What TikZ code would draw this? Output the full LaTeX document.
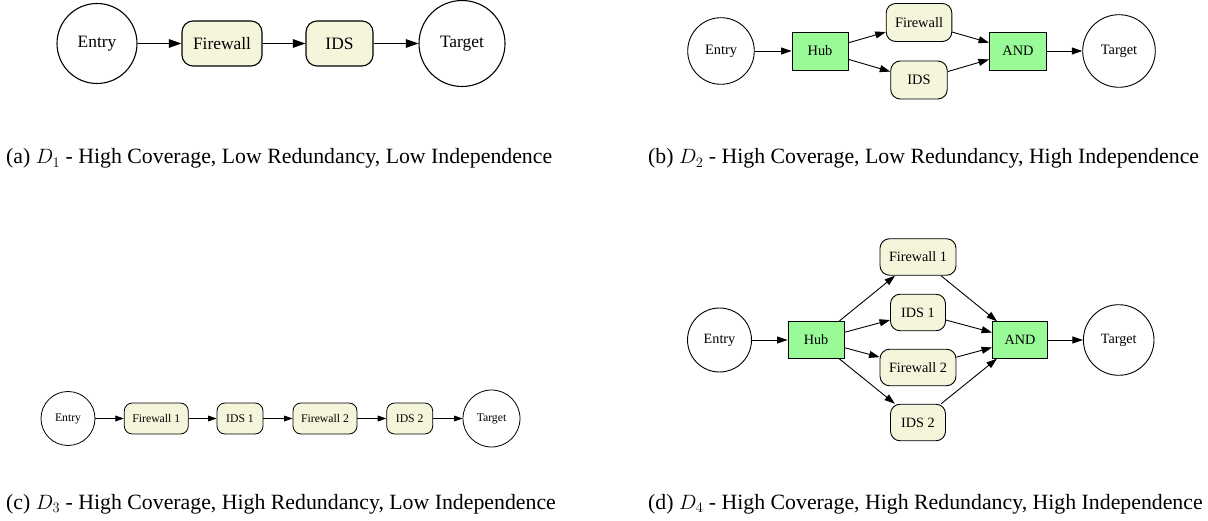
\documentclass[tikz,border=0pt]{standalone}
\usepackage{fontspec}
\setmainfont{Liberation Serif}
\usetikzlibrary{arrows.meta}

\definecolor{guardfill}{HTML}{F5F5DC}
\definecolor{gatefill}{HTML}{98FB98}

% \gr (corner radius) and \bh (box height) are set inside each panel scope
\tikzset{
  endpt/.style={circle, draw, fill=white, inner sep=0pt, minimum size=#1},
  guard/.style={rectangle, draw, fill=guardfill, inner sep=0pt,
                minimum width=#1, minimum height=\bh, rounded corners=\gr},
  gate/.style={rectangle, draw, fill=gatefill, inner sep=0pt,
               minimum width=#1, minimum height=\bh},
  link/.style={->},
  caption/.style={anchor=base west, inner sep=0pt,
                  font=\fontsize{21.8}{26}\selectfont},
}

\begin{document}
\begin{tikzpicture}[x=1pt, y=-1pt]
\useasboundingbox (0,0) rectangle (1208,521);

% ---------- (a) serial chain ----------
\begin{scope}[line width=1.1pt, font=\fontsize{17.4}{21}\selectfont,
              >={Triangle[length=12.5pt,width=8.5pt]}]
  \def\gr{11pt}\def\bh{45pt}
  \node[endpt=80pt] (a-entry)  at (97,43.5)    {Entry};
  \node[guard=80pt] (a-fw)     at (222,43.5)   {Firewall};
  \node[guard=67pt] (a-ids)    at (339.5,43.5) {IDS};
  \node[endpt=86pt] (a-target) at (462,43.5)   {Target};
  \draw[link] (a-entry) -- (a-fw);
  \draw[link] (a-fw) -- (a-ids);
  \draw[link] (a-ids) -- (a-target);
\end{scope}
\node[caption] (cap-a) at (6,164)
  {(a) $D_1$ - High Coverage, Low Redundancy, Low Independence};

% ---------- (b) parallel pair ----------
\begin{scope}[line width=0.9pt, font=\fontsize{14.4}{17}\selectfont,
              >={Triangle[length=10.5pt,width=7pt]}]
  \def\gr{9.5pt}\def\bh{38pt}
  \node[endpt=66.6pt] (b-entry)  at (721,51)    {Entry};
  \node[gate=56pt]    (b-hub)    at (820,51)    {Hub};
  \node[guard=65.6pt] (b-fw)     at (919,22.5)  {Firewall};
  \node[guard=56.5pt] (b-ids)    at (919,80)    {IDS};
  \node[gate=57pt]    (b-and)    at (1018,51)   {AND};
  \node[endpt=72.6pt] (b-target) at (1119,51)   {Target};
  \draw[link] (b-entry) -- (b-hub);
  \draw[link] (b-hub) -- (b-fw);
  \draw[link] (b-hub) -- (b-ids);
  \draw[link] (b-fw) -- (b-and);
  \draw[link] (b-ids) -- (b-and);
  \draw[link] (b-and) -- (b-target);
\end{scope}
\node[caption] (cap-b) at (648,164)
  {(b) $D_2$ - High Coverage, Low Redundancy, High Independence};

% ---------- (c) long serial chain ----------
\begin{scope}[line width=0.8pt, font=\fontsize{11.7}{14}\selectfont,
              >={Triangle[length=8.6pt,width=5.8pt]}]
  \def\gr{8pt}\def\bh{31pt}
  \node[endpt=54pt] (c-entry)  at (68,418.5)    {Entry};
  \node[guard=64pt] (c-fw1)    at (156.3,418.5) {Firewall 1};
  \node[guard=46pt] (c-ids1)   at (240,418.5)   {IDS 1};
  \node[guard=64pt] (c-fw2)    at (325,418.5)   {Firewall 2};
  \node[guard=46pt] (c-ids2)   at (409.7,418.5) {IDS 2};
  \node[endpt=57pt] (c-target) at (491.5,418.5) {Target};
  \draw[link] (c-entry) -- (c-fw1);
  \draw[link] (c-fw1) -- (c-ids1);
  \draw[link] (c-ids1) -- (c-fw2);
  \draw[link] (c-fw2) -- (c-ids2);
  \draw[link] (c-ids2) -- (c-target);
\end{scope}
\node[caption] (cap-c) at (6,509)
  {(c) $D_3$ - High Coverage, High Redundancy, Low Independence};

% ---------- (d) four parallel branches ----------
\begin{scope}[line width=0.9pt, font=\fontsize{14.2}{17}\selectfont,
              >={Triangle[length=10.5pt,width=7pt]}]
  \def\gr{9.5pt}\def\bh{36.5pt}
  \node[endpt=64pt]   (d-entry)  at (719.5,340) {Entry};
  \node[gate=56pt]    (d-hub)    at (816,340)   {Hub};
  \node[guard=76pt]   (d-fw1)    at (918,257)   {Firewall 1};
  \node[guard=55pt]   (d-ids1)   at (918,312.5) {IDS 1};
  \node[guard=76pt]   (d-fw2)    at (918,367.5) {Firewall 2};
  \node[guard=55pt]   (d-ids2)   at (918,422.5) {IDS 2};
  \node[gate=55pt]    (d-and)    at (1020,340)  {AND};
  \node[endpt=70.6pt] (d-target) at (1118.7,340) {Target};
  \draw[link] (d-entry) -- (d-hub);
  \foreach \n in {fw1,ids1,fw2,ids2}{
    \draw[link] (d-hub) -- (d-\n);
    \draw[link] (d-\n) -- (d-and);
  }
  \draw[link] (d-and) -- (d-target);
\end{scope}
\node[caption] (cap-d) at (648,509)
  {(d) $D_4$ - High Coverage, High Redundancy, High Independence};

\end{tikzpicture}
\end{document}
